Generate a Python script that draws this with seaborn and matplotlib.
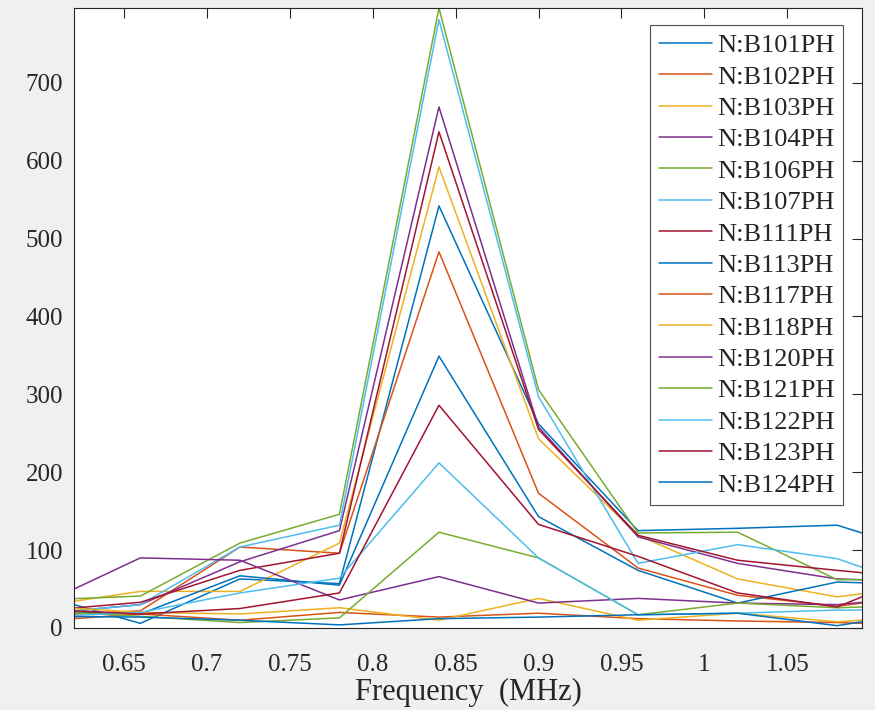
import numpy as np
import pandas as pd
import seaborn as sns
import matplotlib
matplotlib.use('Agg')
import matplotlib.pyplot as plt

# frequency points (MHz)
freq = [0.60, 0.66, 0.72, 0.78, 0.84, 0.90, 0.96, 1.02, 1.08, 1.14]

# amplitude per channel
B101 = [42, 6, 63, 57, 542, 262, 125, 128, 132, 92]
B102 = [16, 22, 104, 96, 483, 173, 77, 42, 28, 44]
B103 = [28, 47, 47, 109, 592, 243, 119, 63, 40, 56]
B104 = [18, 30, 85, 125, 669, 258, 117, 83, 63, 59]
B106 = [36, 41, 109, 146, 796, 306, 122, 123, 62, 62]
B107 = [18, 30, 104, 132, 781, 297, 83, 107, 89, 45]
B111 = [22, 33, 74, 96, 637, 255, 119, 87, 74, 62]
B113 = [21, 18, 67, 55, 349, 143, 74, 32, 59, 55]
B117 = [9, 18, 10, 20, 14, 19, 12, 9, 7, 3]
B118 = [28, 20, 18, 26, 10, 38, 10, 19, 8, 16]
B120 = [30, 90, 87, 36, 66, 32, 38, 32, 30, 42]
B121 = [22, 15, 7, 13, 123, 90, 17, 32, 26, 30]
B122 = [14, 20, 45, 64, 212, 90, 17, 19, 23, 23]
B123 = [24, 18, 25, 45, 286, 133, 92, 45, 27, 79]
B124 = [15, 14, 10, 4, 12, 14, 17, 19, 3, 23]

names = ['N:B101PH', 'N:B102PH', 'N:B103PH', 'N:B104PH', 'N:B106PH',
         'N:B107PH', 'N:B111PH', 'N:B113PH', 'N:B117PH', 'N:B118PH',
         'N:B120PH', 'N:B121PH', 'N:B122PH', 'N:B123PH', 'N:B124PH']
series = [B101, B102, B103, B104, B106, B107, B111, B113, B117, B118,
          B120, B121, B122, B123, B124]

# matlab default color order
matlab = ['#0072BD', '#D95319', '#EDB120', '#7E2F8E', '#77AC30', '#4DBEEE', '#A2142F']
palette = [matlab[i % 7] for i in range(len(names))]

rows = []
for n, vals in zip(names, series):
    for f, v in zip(freq, vals):
        rows.append({'freq': f, 'amp': v, 'channel': n})
df = pd.DataFrame(rows)

sns.set_style('white')
plt.rcParams['font.family'] = ['Liberation Serif', 'DejaVu Serif']

fig = plt.figure(figsize=(8.75, 7.1), dpi=100, facecolor='#f0f0f0')
ax = fig.add_axes([74/875, 1 - 628/710, (862-74)/875, (628-8)/710])
sns.lineplot(data=df, x='freq', y='amp', hue='channel', palette=palette,
             estimator=None, sort=False, linewidth=1.1, ax=ax)

ax.set_xlim(0.62, 1.095)
ax.set_ylim(0, 796)
ax.set_xticks([0.65, 0.7, 0.75, 0.8, 0.85, 0.9, 0.95, 1, 1.05])
ax.set_xticklabels(['0.65', '0.7', '0.75', '0.8', '0.85', '0.9', '0.95', '1', '1.05'])
ax.set_yticks(range(0, 800, 100))
ax.tick_params(direction='in', length=7, width=0.8, top=True, right=True,
               labelsize=18, colors='#262626')
ax.tick_params(axis='x', pad=19)
ax.tick_params(axis='y', pad=8)
for s in ax.spines.values():
    s.set_color('#262626')
    s.set_linewidth(0.8)
ax.set_xlabel('Frequency  (MHz)', fontsize=22, color='#262626', labelpad=1)
ax.set_ylabel('')

h, l = ax.get_legend_handles_labels()
leg = ax.legend(h, l, loc='upper right', bbox_to_anchor=(843/875, 1 - 25/710),
                bbox_transform=fig.transFigure, borderaxespad=0, fontsize=19,
                frameon=True, fancybox=False, edgecolor='#262626',
                handlelength=2.0, handletextpad=0.2, labelspacing=0.3,
                borderpad=0.33)
leg.get_frame().set_linewidth(0.8)

fig.savefig('out.png', dpi=100, facecolor=fig.get_facecolor())
